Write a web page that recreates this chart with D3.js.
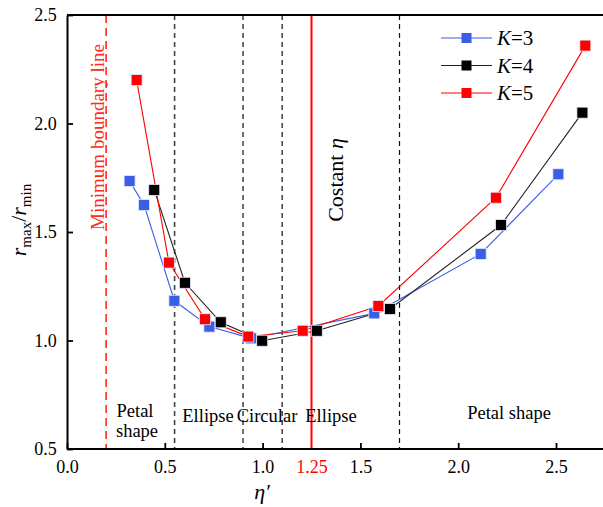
<!DOCTYPE html>
<html><head><meta charset="utf-8">
<script src="https://cdn.jsdelivr.net/npm/d3@7/dist/d3.min.js"></script>
<style>body{margin:0;background:#fff}svg{display:block}</style>
</head><body>
<svg id="c" width="603" height="507"></svg>
<script>
const k3x = [0.32, 0.394, 0.549, 0.728, 0.941, 1.571, 2.115, 2.512];
const k3y = [1.735, 1.624, 1.183, 1.064, 1.010, 1.125, 1.399, 1.766];
const k4x = [0.446, 0.603, 0.786, 0.998, 1.277, 1.651, 2.219, 2.635];
const k4y = [1.694, 1.266, 1.084, 0.999, 1.045, 1.145, 1.532, 2.050];
const k5x = [0.356, 0.521, 0.706, 0.927, 1.205, 1.592, 2.193, 2.650];
const k5y = [2.200, 1.359, 1.098, 1.018, 1.045, 1.159, 1.658, 2.359];
const seriesNames = ["K=3", "K=4", "K=5"];
const xTicks = [0.0, 0.5, 1.0, 1.25, 1.5, 2.0, 2.5];
const yTicks = [0.5, 1.0, 1.5, 2.0, 2.5];
const boundaryX = [0.55, 0.90, 1.10, 1.70];
const minBoundary = 0.2;
const constEta = 1.25;

const FONT = '"Liberation Serif"';
const svg = d3.select("#c").style("font-family", FONT);
const L = 67, T = 15, B = 449;
const x = d3.scaleLinear().domain([0, 2.74]).range([L, L + 2.74 * 195.6]);
const y = d3.scaleLinear().domain([0.5, 2.5]).range([B, T]);
const R = 603;
const colors = ["#3a5fe6", "#000000", "#ff0000"];
const lineCol = ["#3a5fe6", "#222", "#ff0000"];

function txt(sel) { return sel.style("font-family", FONT); }

// vertical boundary lines
boundaryX.forEach((v, i) => {
  svg.append("line").attr("x1", x(v)).attr("x2", x(v)).attr("y1", T).attr("y2", B)
    .attr("stroke", i === 0 ? "#444" : "#111").attr("stroke-width", i === 0 ? 1.6 : 1.2)
    .attr("stroke-dasharray", "5,4");
});
svg.append("line").attr("x1", x(minBoundary)).attr("x2", x(minBoundary)).attr("y1", T).attr("y2", B)
  .attr("stroke", "#ff2a1a").attr("stroke-width", 1.6).attr("stroke-dasharray", "8,5");
svg.append("line").attr("x1", x(constEta)).attr("x2", x(constEta)).attr("y1", T).attr("y2", B)
  .attr("stroke", "#ff0000").attr("stroke-width", 2);

// series
const data = [[k3x, k3y], [k4x, k4y], [k5x, k5y]];
const line = d3.line().x(d => x(d[0])).y(d => y(d[1]));
data.forEach((s, i) => {
  const pts = s[0].map((v, j) => [v, s[1][j]]);
  svg.append("path").datum(pts).attr("d", line).attr("fill", "none")
    .attr("stroke", lineCol[i]).attr("stroke-width", 1.1);
});
data.forEach((s, i) => {
  const pts = s[0].map((v, j) => [v, s[1][j]]);
  svg.selectAll(null).data(pts).enter().append("rect")
    .attr("x", d => x(d[0]) - 5.5).attr("y", d => y(d[1]) - 5.5)
    .attr("width", 11).attr("height", 11)
    .attr("fill", colors[i]).attr("stroke", "#e8e8ff").attr("stroke-width", 0.8);
});

// axes
const xAxis = d3.axisBottom(x).tickValues(xTicks).tickSizeInner(-6).tickSizeOuter(0)
  .tickFormat(d => d === 1.25 ? "1.25" : d3.format(".1f")(d));
const gx = svg.append("g").attr("transform", `translate(0,${B})`).call(xAxis);
gx.attr("font-family", null);
gx.select(".domain").attr("stroke", "#000").attr("stroke-width", 2).attr("d", `M${L},0H${R}`);
gx.selectAll(".tick line").attr("stroke-width", 1.8).filter(d => d === 1.25).remove();
txt(gx.selectAll(".tick text")).attr("font-size", 18).attr("dy", "1.15em")
  .attr("fill", d => d === 1.25 ? "#ff0000" : "#000");

const yAxis = d3.axisLeft(y).tickValues(yTicks).tickSizeInner(-6).tickSizeOuter(0).tickFormat(d3.format(".1f"));
const gy = svg.append("g").attr("transform", `translate(${L},0)`).call(yAxis);
gy.attr("font-family", null);
gy.select(".domain").attr("stroke", "#000").attr("stroke-width", 2);
gy.selectAll(".tick line").attr("stroke-width", 1.8);
txt(gy.selectAll(".tick text")).attr("font-size", 18).attr("dx", "-0.4em");
svg.append("line").attr("x1", L).attr("x2", R).attr("y1", T).attr("y2", T).attr("stroke", "#000").attr("stroke-width", 2);

// axis titles
txt(svg.append("text")).attr("x", 262).attr("y", 499).attr("text-anchor", "middle").attr("font-size", 22)
  .attr("font-style", "italic").text("η′");
const yl = txt(svg.append("text")).attr("transform", "translate(26,220) rotate(-90)").attr("text-anchor", "middle")
  .attr("font-size", 22);
yl.append("tspan").attr("font-style", "italic").text("r");
yl.append("tspan").attr("font-size", 15).attr("dy", 5).text("max");
yl.append("tspan").attr("dy", -5).text("/");
yl.append("tspan").attr("font-style", "italic").text("r");
yl.append("tspan").attr("font-size", 15).attr("dy", 5).text("min");

// annotations
txt(svg.append("text")).attr("transform", "translate(104,137) rotate(-90)").attr("text-anchor", "middle")
  .attr("font-size", 19).attr("fill", "#ff2a1a").text("Minimum boundary line");
const ce = txt(svg.append("text")).attr("transform", "translate(343,180) rotate(-90)").attr("text-anchor", "middle")
  .attr("font-size", 22);
ce.append("tspan").text("Costant ");
ce.append("tspan").attr("font-style", "italic").text("η");

const regionText = [
  {t: "Petal", x: 135, y: 417}, {t: "shape", x: 137, y: 437},
  {t: "Ellipse", x: 208, y: 422}, {t: "Circular", x: 267, y: 422},
  {t: "Ellipse", x: 331, y: 422}, {t: "Petal shape", x: 509, y: 419}
];
txt(svg.selectAll(null).data(regionText).enter().append("text"))
  .attr("x", d => d.x).attr("y", d => d.y).attr("text-anchor", "middle").attr("font-size", 18.5)
  .text(d => d.t);

// legend
seriesNames.forEach((n, i) => {
  const ly = 38 + i * 27.5;
  svg.append("line").attr("x1", 441).attr("x2", 492).attr("y1", ly).attr("y2", ly).attr("stroke", lineCol[i]).attr("stroke-width", 1.1);
  svg.append("rect").attr("x", 466.5 - 5).attr("y", ly - 5).attr("width", 10).attr("height", 10).attr("fill", colors[i]);
  const t = txt(svg.append("text")).attr("x", 497).attr("y", ly + 7).attr("font-size", 21);
  t.append("tspan").attr("font-style", "italic").text(n.split("=")[0]);
  t.append("tspan").text("=" + n.split("=")[1]);
});
</script>
</body></html>
